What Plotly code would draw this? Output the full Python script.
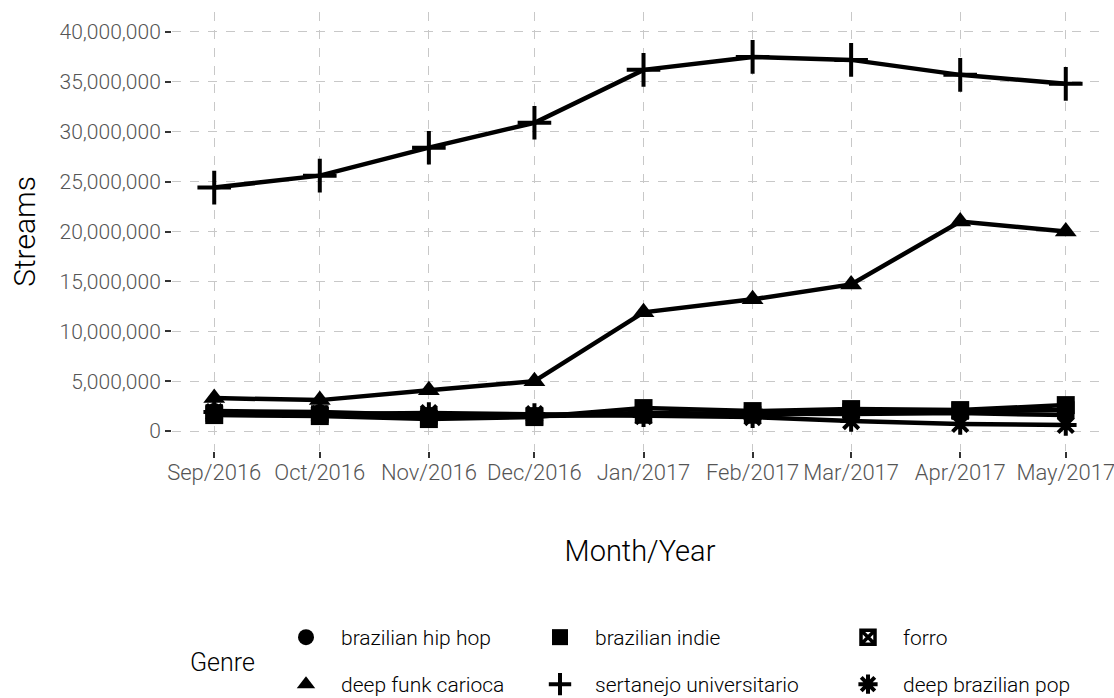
import plotly.graph_objects as go

months = ["2016-09-01", "2016-10-01", "2016-11-01", "2016-12-01", "2017-01-01",
          "2017-02-01", "2017-03-01", "2017-04-01", "2017-05-01"]
month_labels = ["Sep/2016", "Oct/2016", "Nov/2016", "Dec/2016", "Jan/2017",
                "Feb/2017", "Mar/2017", "Apr/2017", "May/2017"]

genres = ["brazilian hip hop", "brazilian indie", "forro",
          "deep funk carioca", "sertanejo universitario", "deep brazilian pop"]

brazilian_hip_hop = [2.0e6, 1.9e6, 1.6e6, 1.6e6, 1.8e6, 1.7e6, 1.7e6, 1.8e6, 1.6e6]
brazilian_indie = [1.6e6, 1.5e6, 1.2e6, 1.4e6, 2.3e6, 2.0e6, 2.2e6, 2.1e6, 2.6e6]
forro = [1.8e6, 1.7e6, 1.5e6, 1.5e6, 1.6e6, 1.6e6, 1.9e6, 2.0e6, 2.1e6]
deep_funk_carioca = [3.3e6, 3.1e6, 4.1e6, 5.0e6, 11.9e6, 13.2e6, 14.7e6, 21.0e6, 20.0e6]
sertanejo_universitario = [24.4e6, 25.6e6, 28.4e6, 30.9e6, 36.2e6, 37.5e6, 37.2e6, 35.7e6, 34.8e6]
deep_brazilian_pop = [1.9e6, 1.7e6, 1.8e6, 1.7e6, 1.5e6, 1.4e6, 1.0e6, 0.7e6, 0.6e6]

values = [brazilian_hip_hop, brazilian_indie, forro,
          deep_funk_carioca, sertanejo_universitario, deep_brazilian_pop]

symbols = ["circle", "square", "square-x-open", "triangle-up", "cross-thin", "asterisk"]
sizes = [16, 18, 14, 19, 24, 18]
line_w = [0, 0, 3.5, 0, 4, 4]

FONT = "Roboto"
fig = go.Figure()

# lines underneath
for g, v in zip(genres, values):
    fig.add_trace(go.Scatter(x=months, y=v, mode="lines", showlegend=False,
                             line=dict(color="black", width=4.5), hoverinfo="skip"))

# points on top, each with its own legend
for i, (g, v) in enumerate(zip(genres, values)):
    fig.add_trace(go.Scatter(
        x=months, y=v, mode="markers", name=g,
        legend="legend" if i == 0 else f"legend{i+1}",
        marker=dict(symbol=symbols[i], size=sizes[i], color="black",
                    line=dict(color="black", width=line_w[i])),
    ))

# legend positions (pixels) -> paper coords
pl, pr, pt, pb = 172, 1108, 12, 451
pw, ph = pr - pl, pb - pt
col_x = [271, 525, 833]
row_y = [617, 664]
legends = {}
for i in range(6):
    r, c = divmod(i, 3)
    key = "legend" if i == 0 else f"legend{i+1}"
    legends[key] = dict(
        x=(col_x[c] - pl) / pw, y=(pb - row_y[r]) / ph,
        xanchor="left", yanchor="top", orientation="v",
        font=dict(family=FONT, size=21, color="black", weight=300),
        bgcolor="rgba(0,0,0,0)", itemwidth=60,
    )

fig.update_layout(
    width=1114, height=698,
    margin=dict(l=pl, r=1114 - pr, t=pt, b=698 - pb, autoexpand=False),
    paper_bgcolor="white", plot_bgcolor="white",
    font=dict(family=FONT, weight=300),
    xaxis=dict(
        type="date", range=["2016-08-20", "2017-05-13"],
        tickvals=months, ticktext=month_labels, tickangle=0,
        ticklabeloverflow="allow", ticklabelstandoff=-4,
        showgrid=True, gridcolor="#C8C8C8", griddash="dash", gridwidth=1,
        zeroline=False, showline=False,
        ticks="outside", ticklen=6, tickwidth=1.5, tickcolor="#333333",
        tickfont=dict(family=FONT, size=22, color="#555555", weight=300),
        title=dict(text="Month/Year", standoff=56,
                   font=dict(family=FONT, size=29, color="black", weight=300)),
    ),
    yaxis=dict(
        range=[-2e6, 42e6],
        tickvals=[0, 5e6, 10e6, 15e6, 20e6, 25e6, 30e6, 35e6, 40e6],
        tickformat=",d",
        showgrid=True, gridcolor="#C8C8C8", griddash="dash", gridwidth=1,
        zeroline=False, showline=False,
        ticks="outside", ticklen=6, tickwidth=1.5, tickcolor="#333333",
        tickfont=dict(family=FONT, size=21, color="#555555", weight=300),
        title=dict(text="Streams", standoff=15,
                   font=dict(family=FONT, size=30, color="black", weight=300)),
    ),
    annotations=[dict(
        text="Genre", xref="paper", yref="paper",
        x=(188 - pl) / pw, y=(pb - 662) / ph, xanchor="left", yanchor="middle",
        showarrow=False, font=dict(family=FONT, size=25, color="black", weight=300),
    )],
    **legends,
)

fig.write_html("out.html", config={"displayModeBar": False})

# remove the default page margin so the figure sits at the top-left corner
with open("out.html", encoding="utf-8") as f:
    html = f.read()
html = html.replace("<body>", '<body style="margin:0;padding:0;">', 1)
with open("out.html", "w", encoding="utf-8") as f:
    f.write(html)
